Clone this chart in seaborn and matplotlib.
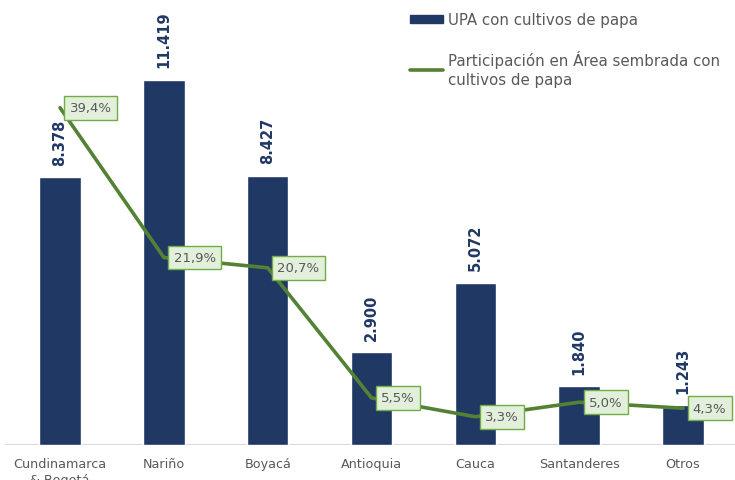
import numpy as np
import pandas as pd
import matplotlib
matplotlib.use("Agg")
import matplotlib.pyplot as plt
from matplotlib.patches import Patch
from matplotlib.lines import Line2D
import seaborn as sns

# %% data
departamentos = ["Cundinamarca\n& Bogotá", "Nariño", "Boyacá", "Antioquia",
                 "Cauca", "Santanderes", "Otros"]
upa = [8378, 11419, 8427, 2900, 5072, 1840, 1243]
upa_labels = ["8.378", "11.419", "8.427", "2.900", "5.072", "1.840", "1.243"]
participacion = [39.4, 21.9, 20.7, 5.5, 3.3, 5.0, 4.3]
part_labels = ["39,4%", "21,9%", "20,7%", "5,5%", "3,3%", "5,0%", "4,3%"]

NAVY = "#203864"
GREEN = "#548235"
GRAY = "#595959"

df = pd.DataFrame({"dep": departamentos, "upa": upa,
                   "pos": np.arange(len(departamentos)), "part": participacion})

# %% plot
sns.set_style("white")
plt.rcParams["font.family"] = ["DejaVu Sans"]

fig = plt.figure(figsize=(7.35, 4.81), dpi=100)
ax = fig.add_axes([5/735, 35/481, 730/735, 436/481])

sns.barplot(data=df, x="dep", y="upa", color=NAVY, width=0.4, ax=ax,
            saturation=1)
ax.set_xlim(-0.53, 6.5)
ax.set_ylim(0, 436 / (365 / 11419))
for i, (v, lab) in enumerate(zip(upa, upa_labels)):
    ax.annotate(lab, (i, v), xytext=(0, 9), textcoords="offset points",
                rotation=90, ha="center", va="bottom", fontsize=10.5,
                fontweight="bold", color=NAVY)

ax2 = ax.twinx()
sns.lineplot(data=df, x="pos", y="part", color=GREEN, linewidth=2.6, ax=ax2,
             sort=False)
ax2.set_ylim(0, 436 / 8.56)
for i, (v, lab) in enumerate(zip(participacion, part_labels)):
    ax2.annotate(lab, (i, v), xytext=(7, 0), textcoords="offset points",
                 ha="left", va="center", fontsize=9.5, color=GRAY,
                 annotation_clip=False,
                 bbox=dict(boxstyle="square,pad=0.4", fc="#e2efda",
                           ec="#70ad47", lw=1))

for a in (ax, ax2):
    a.set_xlabel("")
    a.set_ylabel("")
    a.set_yticks([])
    for s in ["top", "right", "left", "bottom"]:
        a.spines[s].set_visible(False)
ax.axhline(0, color="#d9d9d9", lw=1.5, zorder=0)
ax.tick_params(axis="x", length=0, pad=9, labelsize=9.2, labelcolor=GRAY)
for t in ax.get_xticklabels():
    t.set_linespacing(1.3)
ax2.set_xlim(-0.53, 6.5)

handles = [Patch(facecolor=NAVY, edgecolor=NAVY),
           Line2D([0], [0], color=GREEN, lw=2.6)]
labels = ["UPA con cultivos de papa",
          "Participación en Área sembrada con\ncultivos de papa"]
leg = fig.legend(handles, labels, loc="upper left", bbox_to_anchor=(0.54, 1.0),
                 frameon=False, fontsize=10.8, labelcolor=GRAY, handlelength=2.2,
                 handleheight=0.45, handletextpad=0.3, labelspacing=1.5)
for t in leg.get_texts():
    t.set_linespacing(1.35)

fig.savefig("out.png", dpi=100)
